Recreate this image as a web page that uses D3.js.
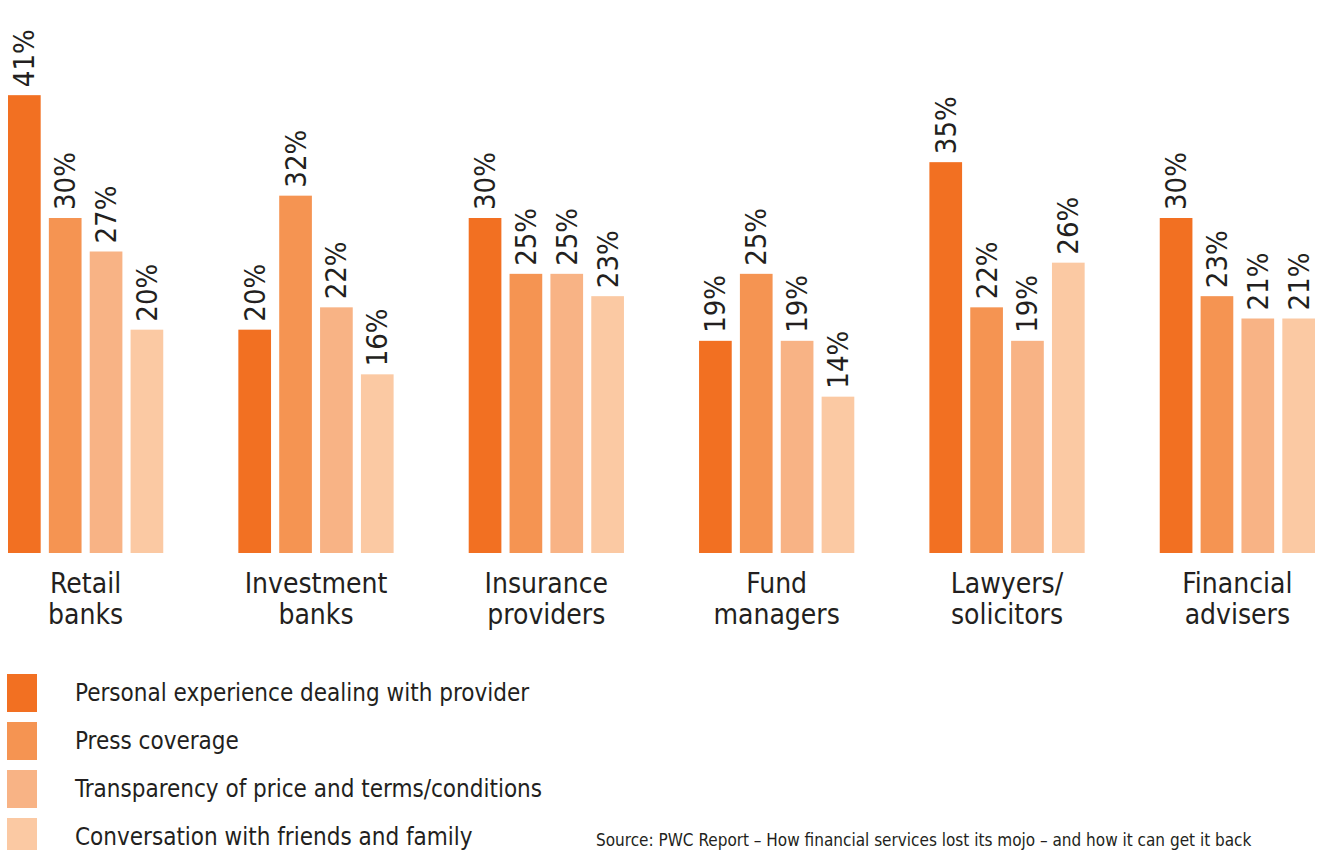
<!DOCTYPE html>
<html>
<head>
<meta charset="utf-8">
<script src="https://cdn.jsdelivr.net/npm/d3@7"></script>
<style>
  body { margin: 0; background: #fff; }
  svg text { font-family: "DejaVu Sans Condensed", "Liberation Sans Narrow", "Roboto", sans-serif; fill: #231f20; }
</style>
</head>
<body>
<div class="chart"></div>
<script>
// values, in %
const categories = ["Retail banks", "Investment banks", "Insurance providers", "Fund managers", "Lawyers/ solicitors", "Financial advisers"]
const categoryLines = [["Retail", "banks"], ["Investment", "banks"], ["Insurance", "providers"], ["Fund", "managers"], ["Lawyers/", "solicitors"], ["Financial", "advisers"]]
const seriesNames = [
    "Personal experience dealing with provider",
    "Press coverage",
    "Transparency of price and terms/conditions",
    "Conversation with friends and family"
]
const personal = [41, 20, 30, 19, 35, 30]
const press = [30, 32, 25, 25, 22, 23]
const transparency = [27, 22, 25, 19, 19, 21]
const conversation = [20, 16, 23, 14, 26, 21]
const colors = ["#f27022", "#f59452", "#f8b385", "#fbc9a3"]
const sourceText = "Source: PWC Report \u2013 How financial services lost its mojo \u2013 and how it can get it back"

const width = 1317, height = 850
const baseline = 553

const svg = d3.select(".chart").append("svg")
    .attr("width", width)
    .attr("height", height)

const series = [personal, press, transparency, conversation]
const data = categories.map((c, i) => ({
    category: c,
    lines: categoryLines[i],
    values: seriesNames.map((s, j) => ({ key: s, value: series[j][i] }))
}))

const x0 = d3.scaleBand()
    .domain(categories)
    .range([8, 1315])
    .paddingInner(0.326)
    .paddingOuter(0)

const x1 = d3.scaleBand()
    .domain(seriesNames)
    .range([0, x0.bandwidth()])
    .paddingInner(0.2)
    .paddingOuter(0)

const y = d3.scaleLinear()
    .domain([0, 42])
    .range([baseline, 84])

const color = d3.scaleOrdinal().domain(seriesNames).range(colors)

const groups = svg.selectAll("g.group")
    .data(data)
    .enter()
    .append("g")
    .attr("class", "group")
    .attr("transform", d => `translate(${x0(d.category)},0)`)

groups.selectAll("rect")
    .data(d => d.values)
    .enter()
    .append("rect")
    .attr("x", d => x1(d.key))
    .attr("y", d => y(d.value))
    .attr("width", x1.bandwidth())
    .attr("height", d => baseline - y(d.value))
    .style("fill", d => color(d.key))

// rotated value labels above the bars
groups.selectAll("text.value")
    .data(d => d.values)
    .enter()
    .append("text")
    .attr("class", "value")
    .attr("transform", d => `translate(${x1(d.key) + x1.bandwidth() / 2},${y(d.value) - 8}) rotate(-90)`)
    .attr("dominant-baseline", "central")
    .attr("font-size", "29px")
    .text(d => d.value + "%")

// category labels under each group
groups.append("text")
    .attr("text-anchor", "middle")
    .attr("font-size", "28px")
    .selectAll("tspan")
    .data(d => d.lines)
    .enter()
    .append("tspan")
    .attr("x", x0.bandwidth() / 2)
    .attr("y", (d, i) => 593 + i * 31)
    .text(d => d)

// legend
const legend = svg.selectAll("g.legend")
    .data(seriesNames)
    .enter()
    .append("g")
    .attr("class", "legend")
    .attr("transform", (d, i) => `translate(7,${674 + i * 48})`)

legend.append("rect")
    .attr("width", 30)
    .attr("height", 38)
    .style("fill", d => color(d))

legend.append("text")
    .attr("x", 68)
    .attr("y", 27)
    .attr("font-size", "24px")
    .text(d => d)

svg.append("text")
    .attr("x", 596)
    .attr("y", 846)
    .attr("font-size", "17px")
    .text(sourceText)
</script>
</body>
</html>
